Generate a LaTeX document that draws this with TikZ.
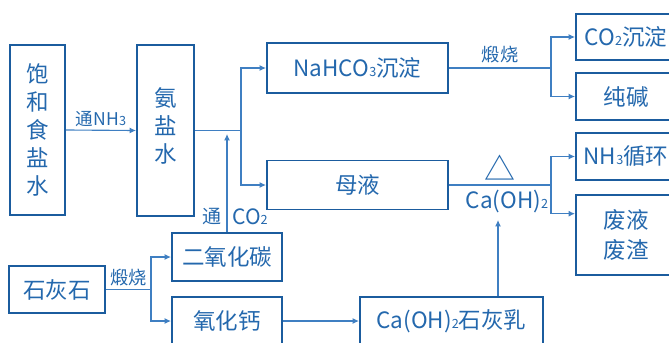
\documentclass[tikz,border=0pt]{standalone}
\usepackage{fontspec}
\setmainfont{Noto Sans CJK SC}
\usepackage{xcolor}
\usetikzlibrary{arrows.meta, calc, positioning}
\definecolor{boxblue}{HTML}{1B5C9E}
\definecolor{txtblue}{HTML}{2468AD}
\definecolor{lineblue}{HTML}{3F7FC2}
\newcommand{\xb}[1]{{\fontsize{9}{10}\selectfont #1}}

\begin{document}
\begin{tikzpicture}[x=0.025cm, y=-0.025cm,
  every node/.style={text=txtblue, font=\fontsize{16}{20}\selectfont},
  box/.style={draw=boxblue, line width=1.4pt, inner sep=0pt, align=center},
  lbl/.style={font=\fontsize{12.5}{14}\selectfont, inner sep=2pt},
  lbl2/.style={font=\fontsize{13}{14}\selectfont, inner sep=3pt},
  >={Latex[length=1.6mm, width=1.5mm]}, draw=lineblue, line width=0.8pt]

\useasboundingbox (0,0) rectangle (669,342);

\node(bhs)[box, minimum width=1.375cm, minimum height=4.25cm] at (37.5,130){饱\\和\\食\\盐\\水};
\node(ays)[box, minimum width=1.425cm, minimum height=4.275cm] at (165.5,130.5){氨\\盐\\水\\[-12pt]};
\node(nahco3)[box, minimum width=4.525cm, minimum height=1.25cm] at (357.5,68){NaHCO\xb{3}沉淀};
\node(muye)[box, minimum width=4.525cm, minimum height=1.225cm] at (357.5,185){母液};

\node(co2cd)[box, minimum width=2.5cm, minimum height=1.15cm] at (626,37){CO\xb{2}沉淀};
\node(chunjian)[box, minimum width=2.5cm, minimum height=1.175cm] at (626,96.5){纯碱};
\node(nh3xh)[box, minimum width=2.5cm, minimum height=1.175cm] at (626,156.5){NH\xb{3}循环};
\node(feiye)[box, minimum width=2.5cm, minimum height=2cm] at (626,235){废液\\[2pt]废渣};

\node(shs)[box, minimum width=2.4cm, minimum height=1.175cm] at (57,289.5){石灰石};
\node(eyht)[box, minimum width=2.75cm, minimum height=1.2cm] at (227,257){二氧化碳};
\node(yhg)[box, minimum width=2.75cm, minimum height=1.2cm] at (227,321){氧化钙};
\node(ca)[box, minimum width=4.575cm, minimum height=1.2cm] at (451.5,321){Ca(OH)\xb{2}石灰乳};

\draw[->] (bhs.east) -- node[lbl, above]{通NH\xb{3}} (ays.west);

\coordinate (b1) at ($(ays.east)+(46,0)$);
\draw (ays.east) -- (b1);
\draw[->] (b1) |- (nahco3.west);
\draw[->] (b1) |- (muye.west);
\draw[->] (eyht.north) -- node[pos=0.16, left, font=\fontsize{13.5}{14}\selectfont]{通}
  node[pos=0.16, right, font=\fontsize{15}{15}\selectfont]{CO\xb{2}} ($(eyht.north)+(0,-98)$);

\coordinate (b2) at ($(nahco3.east)+(102,0)$);
\draw (nahco3.east) -- node[lbl2, above]{煅烧} (b2);
\draw[->] (b2) |- (co2cd.west);
\draw[->] (b2) |- (chunjian.west);

\coordinate (b3) at ($(muye.east)+(102,0)$);
\draw (muye.east) -- node[above, font=\fontsize{22}{22}\selectfont, inner sep=3pt]{△}
  node(caoh)[below, xshift=5pt]{Ca(OH)\xb{2}} (b3);
\draw[->] (b3) |- (nh3xh.west);
\draw[->] (b3) |- ($(feiye.north west)!0.24!(feiye.south west)$);
\coordinate (caup) at (498,220);
\draw[->] (caup |- ca.north) -- (caup);

\coordinate (b4) at ($(shs.east)+(45,0)$);
\draw (shs.east) -- node[lbl2, above, inner sep=2pt]{煅烧} (b4);
\draw[->] (b4) |- (eyht.west);
\draw[->] (b4) |- (yhg.west);
\draw[->] (yhg.east) -- (ca.west);
\end{tikzpicture}
\end{document}
